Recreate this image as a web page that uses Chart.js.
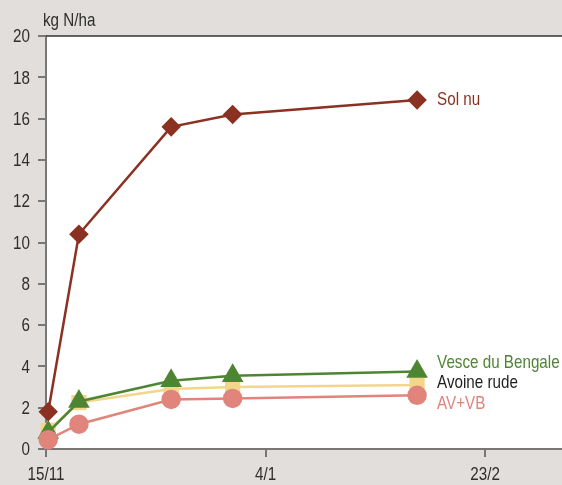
<!DOCTYPE html>
<html>
<head>
<meta charset="utf-8">
<script src="https://cdn.jsdelivr.net/npm/chart.js@4/dist/chart.umd.min.js"></script>
<style>
  html, body { margin: 0; padding: 0; background: #e2dedb; }
  #wrap { width: 562px; height: 485px; }
</style>
</head>
<body>
<div id="wrap"><canvas id="myChart" width="562" height="485"></canvas></div>
<script>
// days after 15/11
var days = [0.5, 7.5, 28.5, 42.5, 84.5];
var tickDays = [0, 50, 100];
var tickLabels = ["15/11", "4/1", "23/2"];

var solNu = [1.8, 10.4, 15.6, 16.2, 16.9];
var vesce = [0.8, 2.3, 3.3, 3.55, 3.75];
var avoine = [0.9, 2.25, 2.9, 3.0, 3.1];
var avvb = [0.45, 1.2, 2.4, 2.45, 2.6];

var FONT = "19px 'Liberation Sans', Arial, sans-serif";
var SQUEEZE = 0.8; // condensed look

function pts(arr) {
  var out = [];
  for (var i = 0; i < arr.length; i++) out.push({x: days[i], y: arr[i]});
  return out;
}

// condensed text
function say(ctx, txt, x, y, align, color) {
  ctx.save();
  ctx.font = FONT;
  ctx.fillStyle = color;
  ctx.textAlign = align;
  ctx.textBaseline = 'middle';
  ctx.translate(x, y);
  ctx.scale(SQUEEZE, 1);
  ctx.fillText(txt, 0, 0);
  ctx.restore();
}

var decor = {
  id: 'decor',
  beforeDraw: function(chart) {
    var ctx = chart.ctx, a = chart.chartArea;
    ctx.save();
    ctx.fillStyle = '#e2dedb';
    ctx.fillRect(0, 0, chart.width, chart.height);
    ctx.fillStyle = '#ffffff';
    ctx.fillRect(a.left, a.top, chart.width - a.left, a.bottom - a.top);
    ctx.restore();
  },
  afterDraw: function(chart) {
    var ctx = chart.ctx, a = chart.chartArea;
    var xs = chart.scales.x, ys = chart.scales.y;
    ctx.save();
    ctx.strokeStyle = '#333333';
    ctx.lineWidth = 1.5;
    ctx.beginPath();
    ctx.moveTo(a.left, a.top);
    ctx.lineTo(chart.width, a.top);
    ctx.stroke();
    ctx.restore();

    // tick labels
    xs.ticks.forEach(function(t) {
      say(ctx, tickLabels[tickDays.indexOf(t.value)], xs.getPixelForValue(t.value), 475, 'center', '#2e2e2e');
    });
    ys.ticks.forEach(function(t) {
      say(ctx, String(t.value), 30, ys.getPixelForValue(t.value) + 1, 'right', '#2e2e2e');
    });

    say(ctx, 'kg N/ha', 43, 21, 'left', '#2e2e2e');

    var lx = xs.getPixelForValue(days[days.length - 1]) + 20;
    say(ctx, 'Sol nu', lx, ys.getPixelForValue(solNu[solNu.length - 1]), 'left', '#8b3122');
    say(ctx, 'Vesce du Bengale', lx, 363, 'left', '#4e8533');
    say(ctx, 'Avoine rude', lx, 383, 'left', '#1e1e1e');
    say(ctx, 'AV+VB', lx, 404, 'left', '#e0847c');
  }
};

var ctx = document.getElementById('myChart').getContext('2d');
var chart = new Chart(ctx, {
  type: 'line',
  data: {
    datasets: [
      {label: 'Sol nu', data: pts(solNu), borderColor: '#8b3122', backgroundColor: '#8b3122',
       pointStyle: 'rectRot', pointRadius: 8, borderWidth: 2.5, order: 1},
      {label: 'AV+VB', data: pts(avvb), borderColor: '#e0847c', backgroundColor: '#e0847c',
       pointStyle: 'circle', pointRadius: 8.5, borderWidth: 2.5, order: 2},
      {label: 'Vesce du Bengale', data: pts(vesce), borderColor: '#4e8533', backgroundColor: '#4e8533',
       pointStyle: 'triangle', pointRadius: 10, borderWidth: 2.5, order: 3},
      {label: 'Avoine rude', data: pts(avoine), borderColor: '#f3d68c', backgroundColor: '#f3d68c',
       pointStyle: 'rect', pointRadius: 9, borderWidth: 2.5, order: 4}
    ]
  },
  options: {
    responsive: false,
    animation: false,
    clip: false,
    layout: {autoPadding: false, padding: {top: 36, right: 0, left: 0, bottom: 0}},
    plugins: {legend: {display: false}, tooltip: {enabled: false}},
    elements: {line: {tension: 0}, point: {borderWidth: 0}},
    scales: {
      x: {
        type: 'linear', min: 0, max: 117.5,
        afterBuildTicks: function(s) { s.ticks = tickDays.map(function(v) { return {value: v}; }); },
        afterFit: function(s) { s.height = 36; s.paddingLeft = 0; s.paddingRight = 0; },
        ticks: {display: false, autoSkip: false, maxRotation: 0},
        grid: {drawOnChartArea: false, tickLength: 8, color: '#777777', lineWidth: 2},
        border: {color: '#777777', width: 2}
      },
      y: {
        min: 0, max: 20,
        afterFit: function(s) { s.width = 46; s.paddingTop = 0; s.paddingBottom = 0; },
        ticks: {display: false, stepSize: 2},
        grid: {drawOnChartArea: false, tickLength: 8, color: '#777777', lineWidth: 2},
        border: {color: '#777777', width: 2}
      }
    }
  },
  plugins: [decor]
});
</script>
</body>
</html>
